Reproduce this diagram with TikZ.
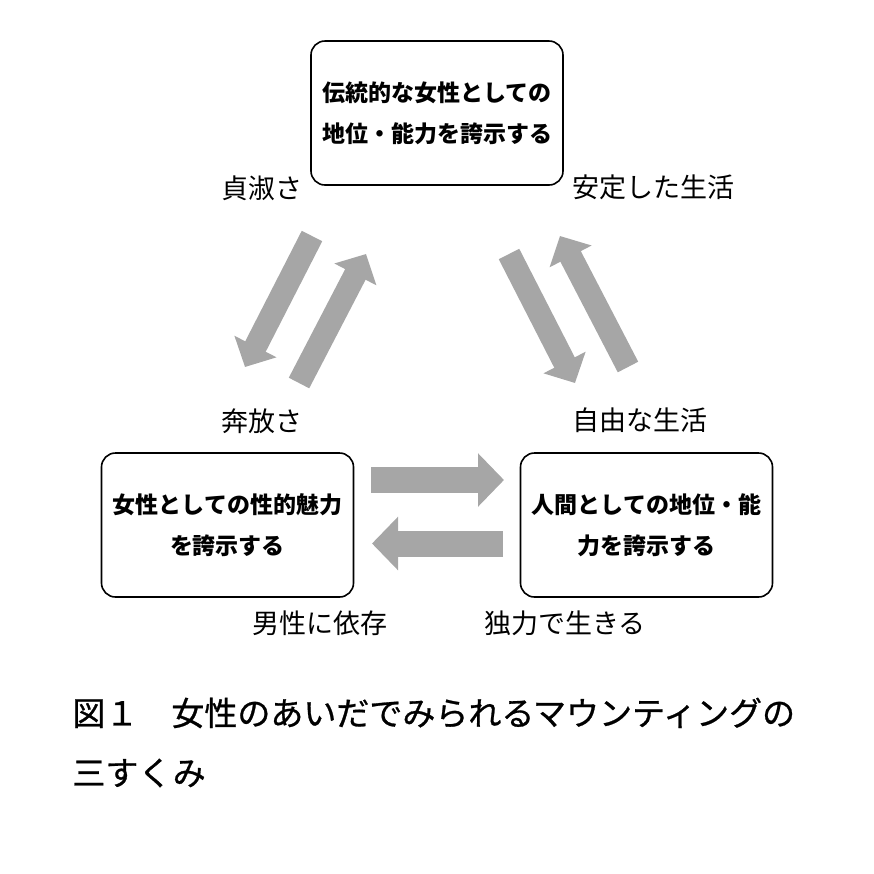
\documentclass[tikz,border=0pt]{standalone}
\usepackage{fontspec}
\newfontfamily\jp{Noto Sans CJK JP}
\newfontfamily\jpcap[FakeBold=0.8]{Noto Sans CJK JP}
\usepackage{tikz}
\usetikzlibrary{positioning, arrows.meta}
\definecolor{arrowgray}{RGB}{166,166,166}
\tikzset{
  stancebox/.style={draw, rounded corners=7pt, line width=0.8pt,
    minimum width=126pt, minimum height=72pt, align=center,
    font=\jp\bfseries\fontsize{11.5}{20.5}\selectfont},
  valuelabel/.style={font=\jp\fontsize{13.5}{16}\selectfont},
  captiontext/.style={anchor=west, inner sep=0pt, font=\jpcap\fontsize{16.5}{20}\selectfont},
  fatarrow/.style={draw=arrowgray, line width=#1,
    -{Triangle[width=0pt 2, length=0pt 1, fill=arrowgray]}},
}
\begin{document}
\begin{tikzpicture}[x=0.5pt, y=-0.5pt]
    \useasboundingbox (0,0) rectangle (874,874);

    % 三つの立場
    \node[stancebox] (trad) at (437,113) {伝統的な女性としての\\地位・能力を誇示する};
    \node[stancebox] (sexy) at (227.5,525) {女性としての性的魅力\\を誇示する};
    \node[stancebox] (human) at (646.5,525) {人間としての地位・能\\力を誇示する};

    % 価値のラベル
    \node[valuelabel] (chaste) at (262,188) {貞淑さ};
    \node[valuelabel] (stable) at (653,187) {安定した生活};
    \node[valuelabel] (wild) at (262,421) {奔放さ};
    \node[valuelabel] (free) at (640,420) {自由な生活};
    \node[valuelabel] (depend) at (320,623) {男性に依存};
    \node[valuelabel] (alone) at (565,623) {独力で生きる};

    % 矢印の端点
    \coordinate (ld1) at (312,236); \coordinate (ld2) at (245,367);
    \coordinate (lu1) at (299,383); \coordinate (lu2) at (366,254);
    \coordinate (rd1) at (509,254); \coordinate (rd2) at (575,383);
    \coordinate (ru1) at (628,367); \coordinate (ru2) at (560,236);
    \coordinate (hr1) at (371,480); \coordinate (hr2) at (504,480);
    \coordinate (hl1) at (503,543.5); \coordinate (hl2) at (372,543.5);

    % 太い矢印
    \foreach \s/\e in {ld1/ld2, lu1/lu2, rd1/rd2, ru1/ru2}
        \draw[fatarrow=11.5pt] (\s) -- (\e);
    \foreach \s/\e in {hr1/hr2, hl1/hl2}
        \draw[fatarrow=13pt] (\s) -- (\e);

    % 図のタイトル
    \node[captiontext] (cap1) at (72,713) {図１　女性のあいだでみられるマウンティングの};
    \node[captiontext] (cap2) at (72,773) {三すくみ};

\end{tikzpicture}
\end{document}
